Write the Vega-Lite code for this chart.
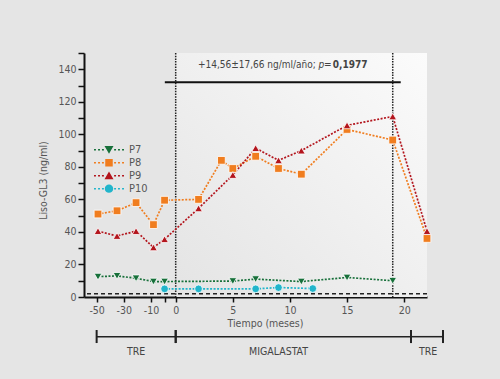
{
  "$schema": "https://vega.github.io/schema/vega-lite/v6.json",
  "width": 343,
  "height": 244,
  "autosize": {"type": "none"},
  "padding": {"left": 84, "top": 53, "right": 73, "bottom": 82},
  "background": "#e5e5e5",
  "config": {
    "view": {"stroke": null},
    "font": "DejaVu Sans Condensed, sans-serif",
    "text": {"font": "DejaVu Sans Condensed, sans-serif"},
    "axis": {
      "grid": false,
      "domainColor": "#111",
      "domainWidth": 2,
      "tickColor": "#111",
      "tickWidth": 1.5,
      "labelColor": "#555",
      "labelFontSize": 10.5,
      "labelFlush": false,
      "labelOverlap": false,
      "titleColor": "#555",
      "titleFontSize": 10.5,
      "titleFontWeight": "normal"
    },
    "axisX": {"tickSize": 5, "labelPadding": 3},
    "axisY": {"tickSize": 6, "labelPadding": 2}
  },
  "datasets": {
    "pacientes": [
      {"Paciente": "P7", "mes": -49, "lisoGL3": 12.5},
      {"Paciente": "P7", "mes": -35, "lisoGL3": 13},
      {"Paciente": "P7", "mes": -21, "lisoGL3": 11.5},
      {"Paciente": "P7", "mes": -9, "lisoGL3": 9.5},
      {"Paciente": "P7", "mes": -4.5, "lisoGL3": 9.5},
      {"Paciente": "P7", "mes": 5, "lisoGL3": 9.8},
      {"Paciente": "P7", "mes": 7, "lisoGL3": 11},
      {"Paciente": "P7", "mes": 11, "lisoGL3": 9.5},
      {"Paciente": "P7", "mes": 15, "lisoGL3": 12},
      {"Paciente": "P7", "mes": 19, "lisoGL3": 10},
      {"Paciente": "P8", "mes": -49, "lisoGL3": 51},
      {"Paciente": "P8", "mes": -35, "lisoGL3": 53},
      {"Paciente": "P8", "mes": -21, "lisoGL3": 58},
      {"Paciente": "P8", "mes": -9, "lisoGL3": 44.5},
      {"Paciente": "P8", "mes": -4.5, "lisoGL3": 59.5},
      {"Paciente": "P8", "mes": 2, "lisoGL3": 60},
      {"Paciente": "P8", "mes": 4, "lisoGL3": 84},
      {"Paciente": "P8", "mes": 5, "lisoGL3": 79},
      {"Paciente": "P8", "mes": 7, "lisoGL3": 86.5},
      {"Paciente": "P8", "mes": 9, "lisoGL3": 79},
      {"Paciente": "P8", "mes": 11, "lisoGL3": 75.5},
      {"Paciente": "P8", "mes": 15, "lisoGL3": 103},
      {"Paciente": "P8", "mes": 19, "lisoGL3": 96.5},
      {"Paciente": "P8", "mes": 22, "lisoGL3": 36},
      {"Paciente": "P9", "mes": -49, "lisoGL3": 40.5},
      {"Paciente": "P9", "mes": -35, "lisoGL3": 37.5},
      {"Paciente": "P9", "mes": -21, "lisoGL3": 40.5},
      {"Paciente": "P9", "mes": -9, "lisoGL3": 30.5},
      {"Paciente": "P9", "mes": -4.5, "lisoGL3": 35.5},
      {"Paciente": "P9", "mes": 2, "lisoGL3": 54.5},
      {"Paciente": "P9", "mes": 5, "lisoGL3": 75},
      {"Paciente": "P9", "mes": 7, "lisoGL3": 91.5},
      {"Paciente": "P9", "mes": 9, "lisoGL3": 84},
      {"Paciente": "P9", "mes": 11, "lisoGL3": 90},
      {"Paciente": "P9", "mes": 15, "lisoGL3": 105.5},
      {"Paciente": "P9", "mes": 19, "lisoGL3": 111},
      {"Paciente": "P9", "mes": 22, "lisoGL3": 40.5},
      {"Paciente": "P10", "mes": -4.5, "lisoGL3": 5},
      {"Paciente": "P10", "mes": 2, "lisoGL3": 5},
      {"Paciente": "P10", "mes": 7, "lisoGL3": 5},
      {"Paciente": "P10", "mes": 9, "lisoGL3": 5.8},
      {"Paciente": "P10", "mes": 12, "lisoGL3": 5.2}
    ],
    "fases": [
      {"fase": "TRE", "inicio": -50, "fin": 0, "centro": -21},
      {"fase": "MIGALASTAT", "inicio": 0, "fin": 20.6, "centro": 9},
      {"fase": "TRE", "inicio": 20.6, "fin": 23.4, "centro": 22.1}
    ]
  },
  "layer": [
    {
      "data": {"values": [{}]},
      "mark": {
        "type": "rect",
        "color": {
          "gradient": "linear",
          "x1": 0, "y1": 1, "x2": 1, "y2": 0,
          "stops": [
            {"offset": 0, "color": "#e4e4e4"},
            {"offset": 1, "color": "#fbfbfb"}
          ]
        }
      },
      "encoding": {
        "x": {"datum": 0, "type": "quantitative", "scale": {"domain": [-59.3, -10, 0, 22], "range": [0, 67, 91.7, 343], "nice": false, "zero": false}},
        "x2": {"datum": 22},
        "y": {"datum": 0, "type": "quantitative", "scale": {"domain": [0, 150], "nice": false, "zero": false}},
        "y2": {"datum": 150}
      }
    },
    {
      "data": {"values": [{}]},
      "mark": {"type": "rule", "color": "#222", "strokeDash": [4, 3], "strokeWidth": 1.5},
      "encoding": {"y": {"datum": 2, "type": "quantitative"}}
    },
    {
      "data": {"values": [{"mes": 0}, {"mes": 19}]},
      "mark": {"type": "rule", "color": "#222", "strokeDash": [1.5, 1.2], "strokeWidth": 1.5},
      "encoding": {"x": {"field": "mes", "type": "quantitative"}}
    },
    {
      "data": {"name": "pacientes"},
      "mark": {"type": "line", "strokeDash": [2, 1.5], "strokeWidth": 1.7},
      "encoding": {
        "x": {
          "field": "mes", "type": "quantitative",
          "axis": {
            "title": "Tiempo (meses)",
            "values": [-50, -30, -10, -4.5, 0, 5, 10, 15, 20],
            "tickCount": 40,
            "labelExpr": "datum.value == -4.5 ? '' : toString(datum.value)",
            "labelOverlap": false,
            "titleX": 181,
            "titleY": 26,
            "titleBaseline": "middle",
            "titleAlign": "center"
          }
        },
        "y": {
          "field": "lisoGL3", "type": "quantitative",
          "axis": {
            "title": "Liso-GL3 (ng/ml)",
            "values": [0, 10, 20, 30, 40, 50, 60, 70, 80, 90, 100, 110, 120, 130, 140, 150],
            "tickCount": 40,
            "labelExpr": "indexof([0, 20, 40, 60, 80, 100, 120, 140], datum.value) >= 0 ? toString(datum.value) : ''",
            "labelOverlap": false,
            "titleX": -41,
            "titleY": 127,
            "titleBaseline": "middle",
            "titleAlign": "center"
          }
        },
        "color": {
          "field": "Paciente", "type": "nominal",
          "scale": {"domain": ["P7", "P8", "P9", "P10"], "range": ["#17703a", "#f07d1f", "#b3151d", "#22b5cb"]},
          "legend": null
        }
      }
    },
    {
      "data": {"name": "pacientes"},
      "mark": {"type": "point", "filled": true, "opacity": 1, "size": 60, "stroke": "white", "strokeWidth": 0.8},
      "encoding": {
        "x": {"field": "mes", "type": "quantitative"},
        "y": {"field": "lisoGL3", "type": "quantitative"},
        "color": {
          "field": "Paciente", "type": "nominal",
          "scale": {"domain": ["P7", "P8", "P9", "P10"], "range": ["#17703a", "#f07d1f", "#b3151d", "#22b5cb"]},
          "legend": null
        },
        "shape": {
          "field": "Paciente", "type": "nominal",
          "scale": {"domain": ["P7", "P8", "P9", "P10"], "range": ["triangle-down", "square", "triangle-up", "circle"]},
          "legend": null
        }
      }
    },
    {
      "data": {"values": [{}]},
      "mark": {"type": "rule", "color": "#111", "strokeWidth": 2},
      "encoding": {
        "x": {"datum": -4.4, "type": "quantitative"},
        "x2": {"datum": 19.7},
        "y": {"datum": 132, "type": "quantitative"}
      }
    },
    {
      "data": {"values": [{}]},
      "mark": {"type": "text", "align": "right", "baseline": "middle", "fontSize": 10, "color": "#444"},
      "encoding": {
        "x": {"datum": 12.27, "type": "quantitative"},
        "y": {"datum": 142.6, "type": "quantitative"},
        "text": {"value": "+14,56±17,66 ng/ml/año;"}
      }
    },
    {
      "data": {"values": [{}]},
      "mark": {"type": "text", "align": "left", "baseline": "middle", "fontSize": 10, "fontStyle": "italic", "color": "#444"},
      "encoding": {
        "x": {"datum": 12.5, "type": "quantitative"},
        "y": {"datum": 142.6, "type": "quantitative"},
        "text": {"value": "p"}
      }
    },
    {
      "data": {"values": [{}]},
      "mark": {"type": "text", "align": "center", "baseline": "middle", "fontSize": 10, "color": "#444"},
      "encoding": {
        "x": {"datum": 13.31, "type": "quantitative"},
        "y": {"datum": 142.6, "type": "quantitative"},
        "text": {"value": "="}
      }
    },
    {
      "data": {"values": [{}]},
      "mark": {"type": "text", "align": "left", "baseline": "middle", "fontSize": 10, "fontWeight": "bold", "color": "#444"},
      "encoding": {
        "x": {"datum": 13.75, "type": "quantitative"},
        "y": {"datum": 142.6, "type": "quantitative"},
        "text": {"value": "0,1977"}
      }
    },
    {
      "data": {"name": "fases"},
      "mark": {"type": "rule", "color": "#222", "strokeWidth": 1.5},
      "encoding": {
        "x": {"field": "inicio", "type": "quantitative"},
        "x2": {"field": "fin"},
        "y": {"datum": -24.4, "type": "quantitative"}
      }
    },
    {
      "data": {"name": "fases"},
      "mark": {"type": "rule", "color": "#222", "strokeWidth": 2},
      "encoding": {
        "x": {"field": "inicio", "type": "quantitative"},
        "y": {"datum": -20.3, "type": "quantitative"},
        "y2": {"datum": -28.3}
      }
    },
    {
      "data": {"name": "fases"},
      "mark": {"type": "rule", "color": "#222", "strokeWidth": 2},
      "encoding": {
        "x": {"field": "fin", "type": "quantitative"},
        "y": {"datum": -20.3, "type": "quantitative"},
        "y2": {"datum": -28.3}
      }
    },
    {
      "data": {"name": "fases"},
      "mark": {"type": "text", "align": "center", "baseline": "middle", "fontSize": 10.5, "color": "#444"},
      "encoding": {
        "x": {"field": "centro", "type": "quantitative"},
        "y": {"datum": -33.8, "type": "quantitative"},
        "text": {"field": "fase"}
      }
    },
    {
      "data": {"values": []},
      "mark": {"type": "point", "filled": true, "opacity": 1},
      "encoding": {
        "x": {"field": "mes", "type": "quantitative"},
        "y": {"field": "lisoGL3", "type": "quantitative"},
        "color": {
          "field": "Paciente", "type": "nominal",
          "scale": {"domain": ["P7", "P8", "P9", "P10"], "range": ["#17703a", "#f07d1f", "#b3151d", "#22b5cb"]},
          "legend": {
            "title": null,
            "orient": "none",
            "legendX": 10,
            "legendY": 91,
            "padding": 0,
            "rowPadding": 0,
            "symbolSize": 900,
            "clipHeight": 11.3,
            "symbolOpacity": 1,
            "symbolStrokeWidth": 0,
            "labelFontSize": 11,
            "labelColor": "#555",
            "labelOffset": 5
          }
        },
        "shape": {
          "field": "Paciente", "type": "nominal",
          "scale": {
            "domain": ["P7", "P8", "P9", "P10"],
            "range": [
              "M-1,-0.05h0.13v0.1h-0.13zM-0.73,-0.05h0.13v0.1h-0.13zM-0.47,-0.05h0.13v0.1h-0.13zM0.34,-0.05h0.13v0.1h-0.13zM0.6,-0.05h0.13v0.1h-0.13zM0.87,-0.05h0.13v0.1h-0.13zM-0.3,-0.24L0.3,-0.24L0,0.28Z",
              "M-1,-0.05h0.13v0.1h-0.13zM-0.73,-0.05h0.13v0.1h-0.13zM-0.47,-0.05h0.13v0.1h-0.13zM0.34,-0.05h0.13v0.1h-0.13zM0.6,-0.05h0.13v0.1h-0.13zM0.87,-0.05h0.13v0.1h-0.13zM-0.25,-0.25h0.5v0.5h-0.5Z",
              "M-1,-0.05h0.13v0.1h-0.13zM-0.73,-0.05h0.13v0.1h-0.13zM-0.47,-0.05h0.13v0.1h-0.13zM0.34,-0.05h0.13v0.1h-0.13zM0.6,-0.05h0.13v0.1h-0.13zM0.87,-0.05h0.13v0.1h-0.13zM-0.3,0.24L0.3,0.24L0,-0.28Z",
              "M-1,-0.05h0.13v0.1h-0.13zM-0.73,-0.05h0.13v0.1h-0.13zM-0.47,-0.05h0.13v0.1h-0.13zM0.34,-0.05h0.13v0.1h-0.13zM0.6,-0.05h0.13v0.1h-0.13zM0.87,-0.05h0.13v0.1h-0.13zM-0.28,0A0.28,0.28 0 1,0 0.28,0A0.28,0.28 0 1,0 -0.28,0Z"
            ]
          }
        }
      }
    }
  ],
  "resolve": {
    "scale": {"color": "independent", "shape": "independent"},
    "legend": {"color": "independent", "shape": "independent"}
  }
}
